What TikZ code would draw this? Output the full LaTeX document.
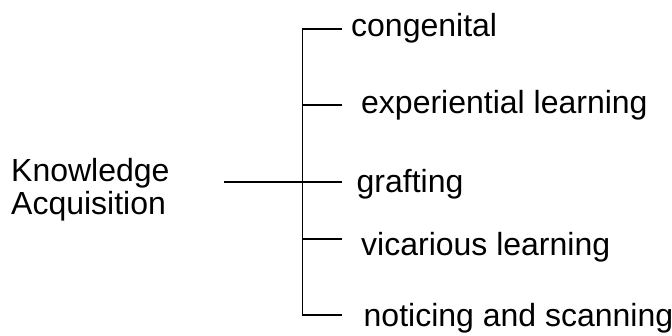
\documentclass[tikz,border=0pt]{standalone}
\usepackage{fontspec}
\setmainfont{Liberation Sans}
\begin{document}
\begin{tikzpicture}[x=1pt,y=-1pt,
  lbl/.style={anchor=base west, inner sep=0pt, font=\fontsize{32}{35}\selectfont},
  conn/.style={line width=1.8pt, line cap=rect}]
\useasboundingbox (0,0) rectangle (672,336);
% root text
\node[lbl] (root) at (11,182) {Knowledge};
\node[lbl] (root2) at (11,215) {Acquisition};
% leaves
\node[lbl] (c1) at (351,36.5) {congenital};
\node[lbl] (c2) at (361,114) {experiential learning};
\node[lbl] (c3) at (356.5,193) {grafting};
\node[lbl] (c4) at (361,256) {vicarious learning};
\node[lbl] (c5) at (363.5,327) {noticing and scanning};
% junction coordinates
\coordinate (s) at (225,181.7);
\coordinate (j) at (302.5,181.7);
\coordinate (v1) at (302.5,29);
\coordinate (v2) at (302.5,105);
\coordinate (v4) at (302.5,239.3);
\coordinate (v5) at (302.5,315);
\coordinate (e1) at (340.7,29);
\coordinate (e2) at (340.7,105);
\coordinate (e3) at (340.7,181.7);
\coordinate (e4) at (340.7,239.3);
\coordinate (e5) at (340.7,315);
% connectors
\draw[conn] (s) -- (j);
\draw[conn] (v1) -- (v5);
\draw[conn] (v1) -- (e1);
\draw[conn] (v2) -- (e2);
\draw[conn] (j) -- (e3);
\draw[conn] (v4) -- (e4);
\draw[conn] (v5) -- (e5);
\end{tikzpicture}
\end{document}
